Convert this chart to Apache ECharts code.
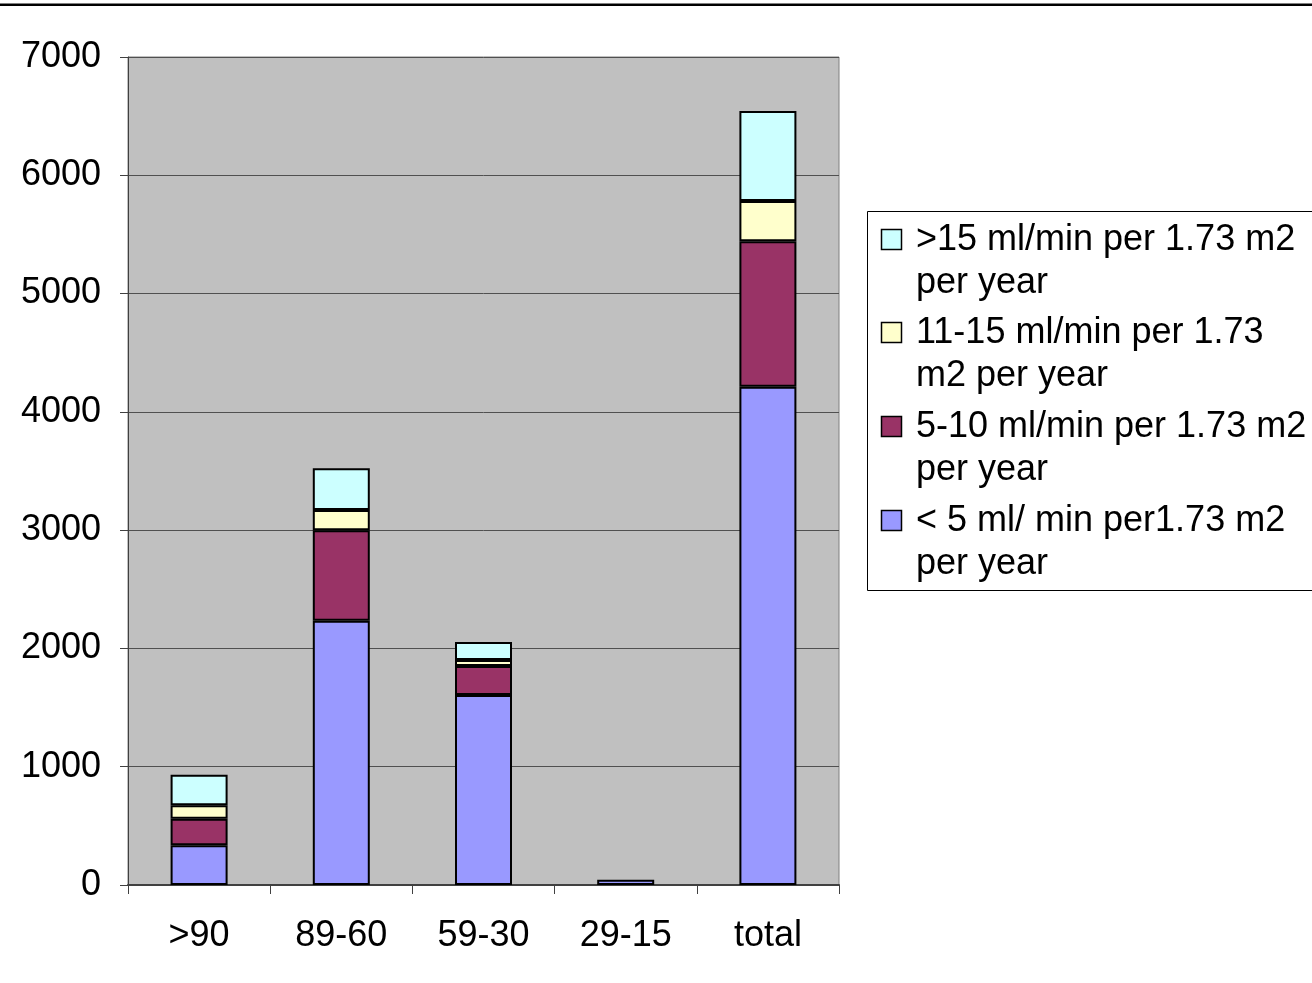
<!DOCTYPE html>
<html>
<head>
<meta charset="utf-8">
<script src="https://cdn.jsdelivr.net/npm/echarts@6/dist/echarts.min.js"></script>
<style>
  html, body { margin: 0; padding: 0; background: #ffffff; }
  #chart { width: 1312px; height: 983px; }
</style>
</head>
<body>
<div id="chart"></div>
<script>
// GFR decline categories (ml/min per 1.73 m2)
const categories = ['>90', '89-60', '59-30', '29-15', 'total'];

// Rate of decline, stacked from bottom to top (null = no segment)
const lt5     = [335, 2234, 1606, 45, 4213];
const d5to10  = [225, 765, 245, null, 1229];
const d11to15 = [114, 171, 51, null, 340];
const gt15    = [258, 353, 152, null, 761];

const seriesNames = [
  '< 5 ml/ min per1.73 m2 per year',
  '5-10 ml/min per 1.73 m2 per year',
  '11-15 ml/min per 1.73 m2 per year',
  '>15 ml/min per 1.73 m2 per year'
];
// Legend text, wrapped as two lines per entry
const legendLines = [
  ['< 5 ml/ min per1.73 m2', 'per year'],
  ['5-10 ml/min per 1.73 m2', 'per year'],
  ['11-15 ml/min per 1.73', 'm2 per year'],
  ['>15 ml/min per 1.73 m2', 'per year']
];
const colors = ['#9999FF', '#993366', '#FFFFCC', '#CCFFFF'];
const yTicks = { min: 0, max: 7000, interval: 1000 };

const FONT = 'Liberation Sans, Arial, sans-serif';
const chart = echarts.init(document.getElementById('chart'));

const seriesData = [lt5, d5to10, d11to15, gt15];
const series = seriesData.map((vals, i) => ({
  name: seriesNames[i],
  type: 'bar',
  stack: 'rate',
  barWidth: 57,
  data: vals,
  itemStyle: { color: colors[i], borderColor: '#000000', borderWidth: 2 },
  emphasis: { disabled: true }
}));

// Legend box: top entry is the top stack segment
const legendGraphics = [{
  type: 'rect',
  shape: { x: 867.5, y: 211.5, width: 460, height: 379 },
  style: { fill: '#ffffff', stroke: '#000000', lineWidth: 1 },
  z: 10
}];
const rowTop = [240, 333, 427, 521];
for (let r = 0; r < 4; r++) {
  const idx = 3 - r;
  const cy = rowTop[r];
  legendGraphics.push({
    type: 'rect',
    shape: { x: 881.5, y: cy - 10.5, width: 20, height: 20 },
    style: { fill: colors[idx], stroke: '#000000', lineWidth: 1.5 },
    z: 11
  });
  legendGraphics.push({
    type: 'text',
    x: 916, y: cy,
    style: {
      text: legendLines[idx][0],
      font: '36px ' + FONT,
      fill: '#000000',
      verticalAlign: 'middle'
    },
    z: 11
  });
  legendGraphics.push({
    type: 'text',
    x: 916, y: cy + 43,
    style: {
      text: legendLines[idx][1],
      font: '36px ' + FONT,
      fill: '#000000',
      verticalAlign: 'middle'
    },
    z: 11
  });
}

chart.setOption({
  animation: false,
  backgroundColor: '#ffffff',
  grid: {
    left: 128, right: 473, top: 57, bottom: 98,
    show: true,
    backgroundColor: '#C0C0C0',
    borderColor: '#808080',
    borderWidth: 1
  },
  xAxis: {
    type: 'category',
    data: categories,
    axisLine: { lineStyle: { color: '#404040', width: 2 } },
    axisTick: { show: true, length: 9, lineStyle: { color: '#404040', width: 1 } },
    axisLabel: { margin: 33, fontSize: 36, fontFamily: FONT, color: '#000000' }
  },
  yAxis: {
    type: 'value',
    min: yTicks.min, max: yTicks.max, interval: yTicks.interval,
    axisLine: { show: true, lineStyle: { color: '#404040', width: 1 } },
    axisTick: { show: true, length: 8, lineStyle: { color: '#404040' } },
    splitLine: { lineStyle: { color: '#505050', width: 1 } },
    axisLabel: {
      margin: 27, fontSize: 36, fontFamily: FONT, color: '#000000',
      formatter: (v) => String(v)
    }
  },
  series: series,
  graphic: [
    {
      type: 'rect',
      shape: { x: 0, y: 3, width: 1312, height: 1 },
      style: { fill: '#808080' }
    },
    {
      type: 'rect',
      shape: { x: 0, y: 4, width: 1312, height: 2 },
      style: { fill: '#000000' }
    }
  ].concat(legendGraphics)
});
</script>
</body>
</html>
